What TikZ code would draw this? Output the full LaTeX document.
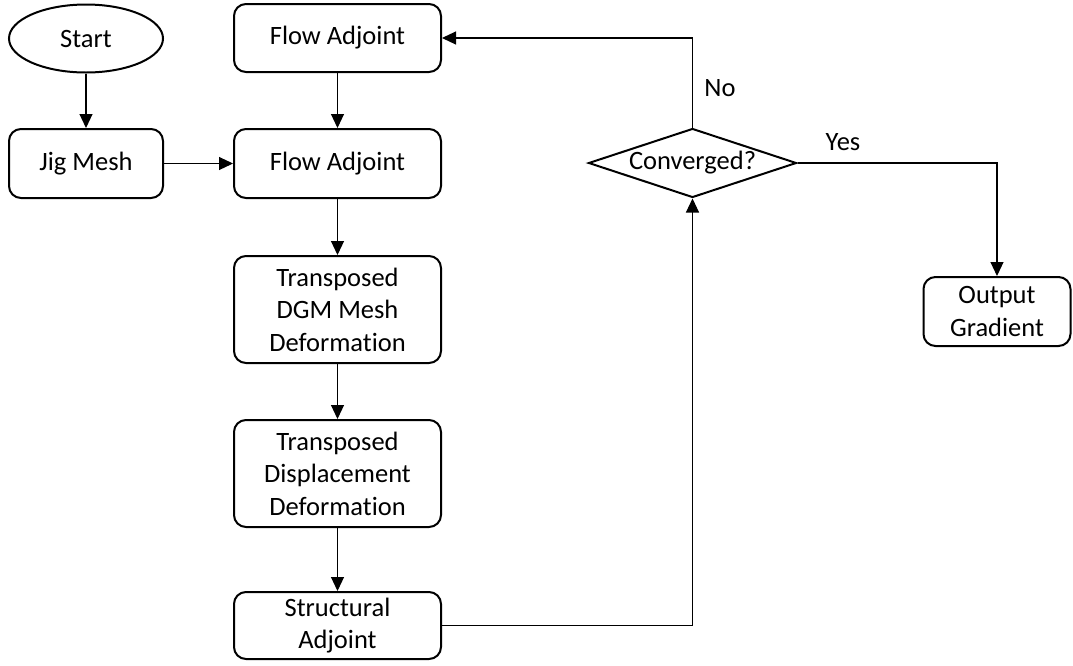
\documentclass[tikz,border=0pt]{standalone}
\usepackage{fontspec}
\setmainfont[Ligatures=NoCommon]{Carlito}
\usetikzlibrary{shapes.geometric,arrows.meta}

\tikzset{
	block/.style={draw, line width=2pt, rounded corners=12pt, align=center, inner sep=0pt},
	flowline/.style={line width=1.1pt, -{Triangle[length=14pt,width=13pt]}},
}

\begin{document}
\begin{tikzpicture}[x=1pt,y=-1pt,font=\fontsize{26.5}{32.5}\selectfont]
		\useasboundingbox (0,0) rectangle (1073,665);

		\node[draw, line width=2pt, ellipse, minimum width=154pt, minimum height=68pt, inner sep=0pt] (start) at (86,38.5) {Start};
		\node[block, minimum width=154pt, minimum height=69pt] (jig) at (86,163.5) {Jig Mesh};
		\node[block, minimum width=207pt, minimum height=68pt] (flowA) at (337.5,38) {Flow Adjoint};
		\node[block, minimum width=207pt, minimum height=69pt] (flowB) at (337.5,163.5) {Flow Adjoint};
		\node[block, minimum width=207pt, minimum height=107pt] (dgm) at (337.5,309.5) {Transposed\\DGM Mesh\\Deformation};
		\node[block, minimum width=207pt, minimum height=107pt] (disp) at (337.5,473.5) {Transposed\\Displacement\\Deformation};
		\node[block, minimum width=207pt, minimum height=67pt] (struct) at (337.5,625.5) {Structural\\Adjoint};
		\node[draw, line width=2pt, diamond, aspect=3, minimum width=208pt, minimum height=69pt, inner sep=0pt] (conv) at (692.5,163) {Converged?};
		\node[block, minimum width=147pt, minimum height=69pt] (output) at (997,311.5) {Output\\Gradient};

		\draw[flowline] (start) -- (jig);
		\draw[flowline] (jig) -- (flowB);
		\draw[flowline] (flowA) -- (flowB);
		\draw[flowline] (flowB) -- (dgm);
		\draw[flowline] (dgm) -- (disp);
		\draw[flowline] (disp) -- (struct);

		\draw[flowline] (struct.east) -| (conv.south);
		\draw[flowline] (conv.north) |- (flowA.east);
		\draw[flowline] (conv.east) -| (output.north);

		\node (no) at (720,88) {No};
		\node (yes) at (843,142) {Yes};

	\end{tikzpicture}
\end{document}
